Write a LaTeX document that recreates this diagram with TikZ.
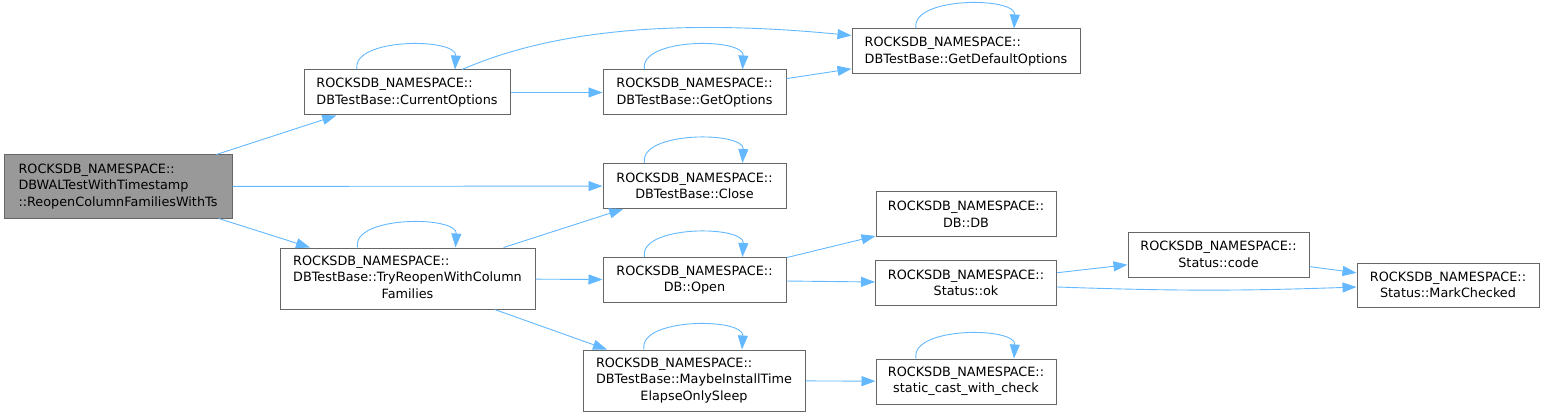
\documentclass[tikz,border=0pt]{standalone}
\usepackage{fontspec}
\setmainfont{DejaVu Sans}
\usetikzlibrary{positioning,arrows.meta}
\definecolor{edgeBlue}{HTML}{63B8FF}
\definecolor{boxLine}{HTML}{666666}
\definecolor{rootFill}{HTML}{999999}
\newcommand{\threeline}[3]{\begin{tabular}{@{}l@{}}#1\\ #2\\ \multicolumn{1}{@{}c@{}}{#3}\end{tabular}}

\begin{document}
\begin{tikzpicture}[x=1pt, y=-1pt, every node/.style={font=\fontsize{12.8}{16.5}\selectfont},
  box/.style={draw=boxLine, line width=1pt, inner sep=3pt, align=center, minimum height=45pt},
  lbox/.style={box, align=left},
  arr/.style={-{Triangle[length=14pt,width=10pt]}, draw=edgeBlue, line width=0.9pt}]
\useasboundingbox (0,0) rectangle (1545,417);
\node[lbox, fill=rootFill, minimum width=228pt, minimum height=63pt] (root) at (118,186.5) {ROCKSDB\_NAMESPACE::\\ DBWALTestWithTimestamp\\ ::ReopenColumnFamiliesWithTs};
\node[lbox, minimum width=206pt] (cur) at (407,92.5) {ROCKSDB\_NAMESPACE::\\ DBTestBase::CurrentOptions};
\node[box, minimum width=183pt] (getopt) at (694.5,92.5) {ROCKSDB\_NAMESPACE::\\ DBTestBase::GetOptions};
\node[lbox, minimum width=228pt] (getdef) at (966,51.5) {ROCKSDB\_NAMESPACE::\\ DBTestBase::GetDefaultOptions};
\node[box, minimum width=183pt] (close) at (694.5,186) {ROCKSDB\_NAMESPACE::\\ DBTestBase::Close};
\node[box, minimum width=255pt, minimum height=61pt] (tryre) at (407.5,278.5) {\threeline{ROCKSDB\_NAMESPACE::}{DBTestBase::TryReopenWithColumn}{Families}};
\node[box, minimum width=183pt] (open) at (694.5,280) {ROCKSDB\_NAMESPACE::\\ DB::Open};
\node[box, minimum width=180pt] (dbdb) at (966,214) {ROCKSDB\_NAMESPACE::\\ DB::DB};
\node[box, minimum width=181pt] (ok) at (966,283) {ROCKSDB\_NAMESPACE::\\ Status::ok};
\node[box, minimum width=222pt, minimum height=61pt] (maybe) at (694,380.5) {\threeline{ROCKSDB\_NAMESPACE::}{DBTestBase::MaybeInstallTime}{ElapseOnlySleep}};
\node[box, minimum width=180pt] (scast) at (966,381.5) {ROCKSDB\_NAMESPACE::\\ static\_cast\_with\_check};
\node[box, minimum width=181pt] (code) at (1218.5,254.5) {ROCKSDB\_NAMESPACE::\\ Status::code};
\node[box, minimum width=182pt, minimum height=44pt] (mark) at (1448,285) {ROCKSDB\_NAMESPACE::\\ Status::MarkChecked};
% self calls
\foreach \n in {cur,getopt,getdef,close,tryre,open,maybe,scast}
  \draw[arr] ([xshift=-50pt]\n.north) .. controls +(-6,-32) and +(2,-32) .. ([xshift=48pt]\n.north);
\draw[arr] (root) -- (cur); \draw[arr] (root) -- (close); \draw[arr] (root) -- (tryre);
\draw[arr] (cur) -- (getopt); \draw[arr] (getopt) -- (getdef);
\draw[arr] ([xshift=55pt]cur.north) .. controls (530,40) and (640,15) .. ([yshift=16pt]getdef.west);
\draw[arr] (tryre) -- (close); \draw[arr] (tryre) -- (open); \draw[arr] (tryre) -- (maybe);
\draw[arr] (open) -- (dbdb); \draw[arr] (open) -- (ok); \draw[arr] (maybe) -- (scast);
\draw[arr] (ok) -- (code); \draw[arr] (code) -- (mark);
\draw[arr] ([yshift=-4pt]ok.east) to[bend right=2] ([yshift=-2pt]mark.west);
\end{tikzpicture}
\end{document}
